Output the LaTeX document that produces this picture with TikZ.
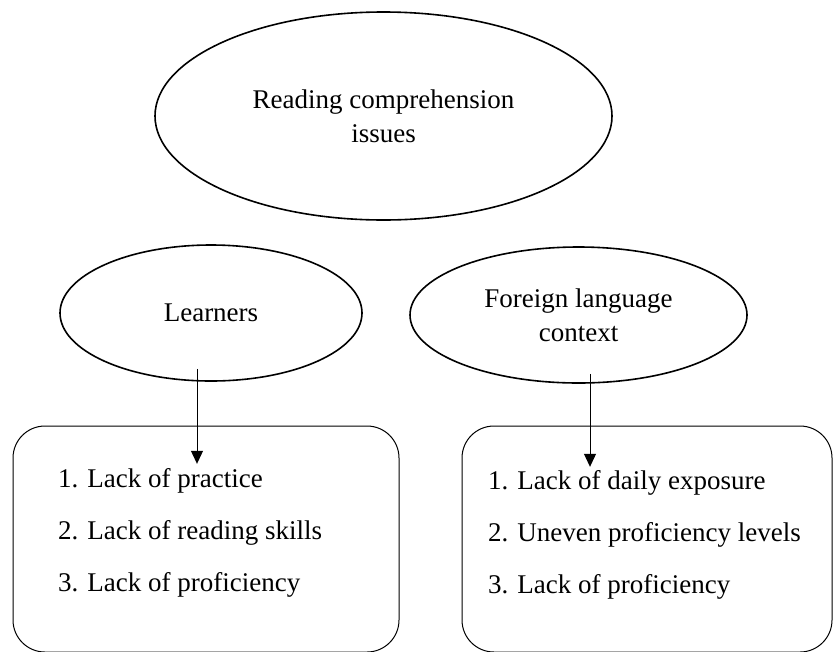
\documentclass[tikz,border=0pt]{standalone}
\usepackage{fontspec}
\setmainfont{Liberation Serif}
\usetikzlibrary{shapes.geometric,arrows.meta,calc}
\begin{document}
\begin{tikzpicture}[x=1pt,y=-1pt,
  oval/.style={ellipse,draw,line width=1.6pt,inner sep=0pt,align=center,
    font=\fontsize{27}{34}\selectfont},
  listbox/.style={draw,line width=1pt,rounded corners=32pt,inner sep=0pt},
  listtext/.style={align=left,anchor=west,inner sep=0pt,
    font=\fontsize{27}{52}\selectfont},
  arr/.style={line width=1pt,-{Triangle[length=13pt,width=12pt]}}]
\useasboundingbox (0,0) rectangle (834,651);
\node[oval,minimum width=457pt,minimum height=208pt] (top) at (383.5,116) {Reading comprehension\\issues};
\node[oval,minimum width=302pt,minimum height=136pt] (learn) at (211,313) {Learners};
\node[oval,minimum width=337pt,minimum height=136pt] (foreign) at (578.5,315) {Foreign language\\context};
\node[listbox,minimum width=386pt,minimum height=226pt] (lbox) at (206,539) {};
\node[listbox,minimum width=370pt,minimum height=226pt] (rbox) at (647,539) {};
\node[listtext] (ltext) at (58,533) {1. Lack of practice\\2. Lack of reading skills\\3. Lack of proficiency};
\node[listtext] (rtext) at (488,535) {1. Lack of daily exposure\\2. Uneven proficiency levels\\3. Lack of proficiency};
\coordinate (ls) at ($(learn.south)+(-14,-13)$);
\coordinate (le) at ($(learn.south)+(-14,82)$);
\coordinate (rs) at ($(foreign.south)+(11.5,-10)$);
\coordinate (re) at ($(foreign.south)+(11.5,83)$);
\draw[arr] (ls) -- (le);
\draw[arr] (rs) -- (re);
\end{tikzpicture}
\end{document}
